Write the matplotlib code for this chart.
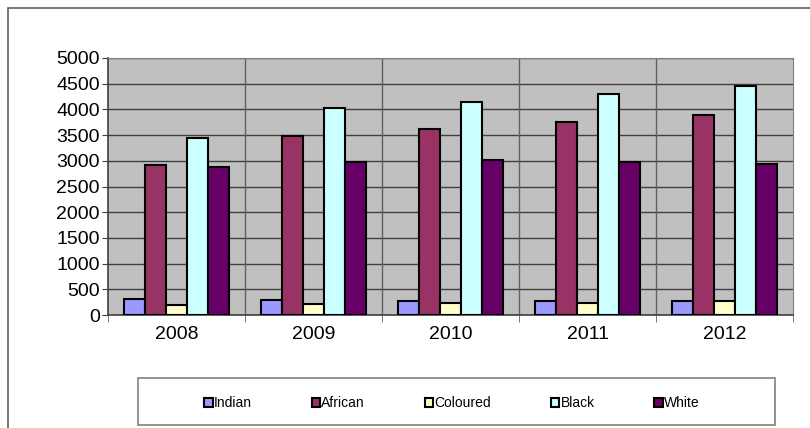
import numpy as np
import matplotlib.pyplot as plt
from matplotlib.patches import Rectangle

plt.rcParams['font.family'] = ['Liberation Sans Narrow', 'Liberation Sans', 'DejaVu Sans']

years = ["2008", "2009", "2010", "2011", "2012"]
groups = ["Indian", "African", "Coloured", "Black", "White"]
indian = [306, 294, 267, 280, 280]
african = [2922, 3482, 3614, 3757, 3888]
coloured = [202, 215, 228, 228, 280]
black = [3443, 4031, 4149, 4294, 4463]
white = [2882, 2973, 3025, 2986, 2933]
colors = ["#9999FF", "#993366", "#FFFFCC", "#CCFFFF", "#660066"]

series = [indian, african, coloured, black, white]

fig = plt.figure(figsize=(8.1, 4.28), dpi=100)
fig.patches.append(Rectangle((8 / 810, -0.1), 1.2, 1.1 - 8 / 428,
                             transform=fig.transFigure, fill=False,
                             edgecolor="#606060", linewidth=1.2))

ax = fig.add_axes([108 / 810, 1 - 315 / 428, 685 / 810, 257 / 428])
ax.set_facecolor("#C0C0C0")

x = np.arange(len(years))
w = 0.153
for i, (vals, c) in enumerate(zip(series, colors)):
    ax.bar(x + (i - 2) * w, vals, width=w, color=c, edgecolor="black",
           linewidth=1.5, label=groups[i], zorder=3)

ax.set_ylim(0, 5000)
ax.set_xlim(-0.5, len(years) - 0.5)
ax.set_yticks(np.arange(0, 5001, 500))
ax.yaxis.grid(True, color="#404040", linewidth=1, zorder=1)
for b in np.arange(0.5, len(years) - 0.5, 1):
    ax.axvline(b, color="#606060", linewidth=1, zorder=1)
ax.set_axisbelow(True)

ax.set_xticks(x)
ax.set_xticklabels(years, fontsize=14)
ax.tick_params(axis="x", length=0, pad=8)
ax.set_xticks(np.arange(-0.5, len(years), 1), minor=True)
ax.tick_params(axis="x", which="minor", length=5, color="#606060")
ax.tick_params(axis="y", labelsize=14, length=4, color="#404040", pad=2)
for s in ["top", "right"]:
    ax.spines[s].set_color("#808080")
for s in ["left", "bottom"]:
    ax.spines[s].set_color("#404040")
    ax.spines[s].set_linewidth(1.2)

fig.patches.append(Rectangle((138 / 810, 1 - 425 / 428), 637 / 810, 47 / 428,
                             transform=fig.transFigure, fill=False,
                             edgecolor="#808080", linewidth=1.2))
fig.legend(loc="center", bbox_to_anchor=(452 / 810, 1 - 403 / 428), ncol=5,
           frameon=False, fontsize=10, handlelength=0.6, handleheight=0.6,
           handletextpad=0.1, columnspacing=4.3)

fig.savefig("out.png", dpi=100)
